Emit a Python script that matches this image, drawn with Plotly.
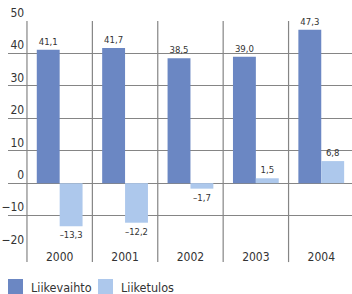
import plotly.graph_objects as go

years = ["2000", "2001", "2002", "2003", "2004"]
liikevaihto = [41.1, 41.7, 38.5, 39.0, 47.3]
liiketulos = [-13.3, -12.2, -1.7, 1.5, 6.8]
y_ticks = [-20, -10, 0, 10, 20, 30, 40, 50]
series_names = ["Liikevaihto", "Liiketulos"]

DARK = "#6b87c3"
LIGHT = "#adc8ec"
GRID = "#858585"
TXT = "#333333"
FONT = "Liberation Sans Narrow, DejaVu Sans Condensed, Arial Narrow, sans-serif"


def fmt(v):
    return f"{v:.1f}".replace(".", ",").replace("-", "\u2013")


xs = list(range(len(years)))

fig = go.Figure()
for name, vals, col in [(series_names[0], liikevaihto, DARK), (series_names[1], liiketulos, LIGHT)]:
    fig.add_trace(go.Bar(
        x=xs, y=vals, name=name, marker=dict(color=col, line=dict(width=0)),
        text=[fmt(v) for v in vals], textposition="outside",
        textfont=dict(family=FONT, size=9.5, color=TXT), cliponaxis=False,
        showlegend=False,
    ))

# category boundary lines
for i in range(len(years) + 1):
    fig.add_shape(type="line", xref="x", yref="paper", x0=i - 0.5, x1=i - 0.5,
                  y0=-0.062, y1=1, line=dict(color=GRID, width=1.2), layer="below")

# manual legend
W = 344.0
H = 227.0
leg = [(series_names[0], DARK, 8), (series_names[1], LIGHT, 98)]
for name, col, px in leg:
    fig.add_shape(type="rect", xref="paper", yref="paper",
                  x0=(px - 8) / W, x1=(px + 15 - 8) / W,
                  y0=-(294 - 248) / H, y1=-(279 - 248) / H,
                  line=dict(width=0), fillcolor=col)
    fig.add_annotation(xref="paper", yref="paper", x=(px + 21 - 8) / W, y=-(287 - 248) / H,
                       text=name, showarrow=False, xanchor="left", yanchor="middle",
                       font=dict(family=FONT, size=12.5, color=TXT))

fig.update_layout(
    width=352, height=294,
    margin=dict(l=8, r=0, t=21, b=46),
    paper_bgcolor="white", plot_bgcolor="white",
    barmode="group", bargap=0.3, bargroupgap=0,
    font=dict(family=FONT, color=TXT),
    xaxis=dict(range=[-0.79, 4.47], tickvals=xs, ticktext=years, showgrid=False,
               zeroline=False, showline=False, ticks="", fixedrange=True,
               tickfont=dict(family=FONT, size=12, color=TXT)),
    yaxis=dict(range=[-20, 50], tickvals=y_ticks, showgrid=True, gridcolor=GRID,
               gridwidth=1.2, zeroline=False, showline=False, ticks="",
               anchor="free", position=0.047, ticklabelposition="outside top",
               tickfont=dict(family=FONT, size=12, color=TXT), fixedrange=True),
)

fig.write_html("out.html", config={"displayModeBar": False},
               post_script="document.body.style.margin='0';document.body.style.overflow='hidden';")
